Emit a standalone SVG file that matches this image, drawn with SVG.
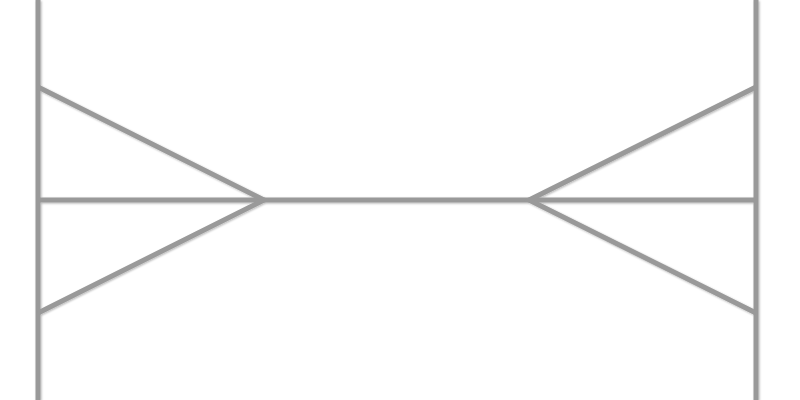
<svg xmlns="http://www.w3.org/2000/svg" width="800" height="400" viewBox="0 0 800 400">
<defs>
<filter id="sh" x="-10%" y="-10%" width="120%" height="120%">
<feGaussianBlur in="SourceAlpha" stdDeviation="1.2"/>
<feOffset dx="1" dy="1" result="b"/>
<feComponentTransfer><feFuncA type="linear" slope="0.3"/></feComponentTransfer>
<feMerge><feMergeNode/><feMergeNode in="SourceGraphic"/></feMerge>
</filter>
<style>.ln{fill:none;stroke:#999999;stroke-width:5;stroke-linejoin:miter;stroke-linecap:butt}</style>
</defs>
<rect width="800" height="400" fill="#ffffff"/>
<g id="connectors" filter="url(#sh)">
<path class="ln" d="M38,0 V400"/>
<path class="ln" d="M756,0 V400"/>
<path class="ln" d="M38,200 H756"/>
<path class="ln" d="M38,87 L264,200 L38,313"/>
<path class="ln" d="M756,87 L529,200 L756,313"/>
</g>
</svg>
